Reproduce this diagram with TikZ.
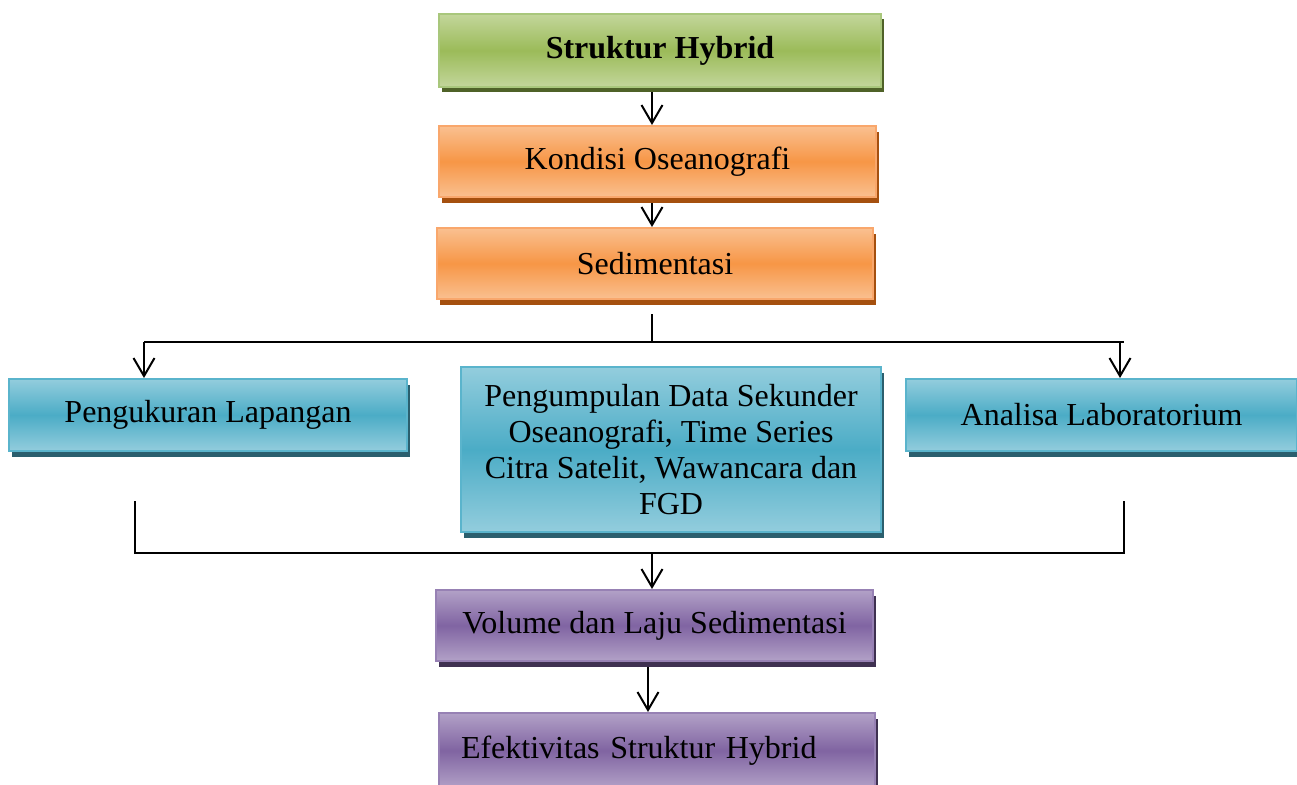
\documentclass[tikz,border=0pt]{standalone}
\usepackage{fontspec}
\setmainfont{Liberation Serif}
\usetikzlibrary{arrows.meta,shadows,backgrounds,calc}
\definecolor{greenB}{HTML}{A9C77C}
\definecolor{greenL}{HTML}{C3D69B}
\definecolor{greenM}{HTML}{9BBB59}
\definecolor{greenS}{HTML}{4F6228}
\definecolor{orangeB}{HTML}{F9A76C}
\definecolor{orangeL}{HTML}{FAC090}
\definecolor{orangeM}{HTML}{F79646}
\definecolor{orangeS}{HTML}{A5500F}
\definecolor{blueB}{HTML}{5AB4CC}
\definecolor{blueL}{HTML}{93CDDD}
\definecolor{blueM}{HTML}{4BACC6}
\definecolor{blueS}{HTML}{2B5F6E}
\definecolor{purpleB}{HTML}{9781B4}
\definecolor{purpleL}{HTML}{B2A1C7}
\definecolor{purpleM}{HTML}{8064A2}
\definecolor{purpleS}{HTML}{3F3151}
\tikzset{
  box/.style={draw, rectangle, line width=2pt, inner sep=0pt, align=center},
  gbox/.style={box, draw=greenB, top color=greenL, bottom color=greenL, middle color=greenM,
    general shadow={fill=greenS, shadow xshift=3pt, shadow yshift=-5pt}},
  obox/.style={box, draw=orangeB, top color=orangeL, bottom color=orangeL, middle color=orangeM,
    general shadow={fill=orangeS, shadow xshift=3pt, shadow yshift=-6pt}},
  bbox/.style={box, draw=blueB, top color=blueL, bottom color=blueL, middle color=blueM,
    general shadow={fill=blueS, shadow xshift=3pt, shadow yshift=-6pt}},
  pbox/.style={box, draw=purpleB, top color=purpleL, bottom color=purpleL, middle color=purpleM,
    general shadow={fill=purpleS, shadow xshift=3pt, shadow yshift=-6pt}},
  conn/.style={line width=2pt, black},
  arr/.style={conn, -{Straight Barb[length=18pt, width=21pt, line width=2pt]}},
}
\begin{document}
\begin{tikzpicture}[x=1pt, y=-1pt, font=\fontsize{32}{36}\selectfont]
\clip (0,0) rectangle (1297,784);

\node[gbox, minimum width=442pt, minimum height=73pt] (A) at (660,50.5) {\bfseries Struktur Hybrid};
\node[obox, minimum width=437pt, minimum height=71pt] (B) at (657.5,161.5) {Kondisi Oseanografi};
\node[obox, minimum width=436pt, minimum height=71pt] (C) at (655,263.5) {Sedimentasi};
\node[bbox, minimum width=398pt, minimum height=72pt] (D) at (208,415) {Pengukuran Lapangan};
\node[bbox, minimum width=420pt, minimum height=165pt] (E) at (671,449.5)
  {Pengumpulan Data Sekunder\\Oseanografi, Time Series\\Citra Satelit, Wawancara dan\\FGD};
\node[bbox, minimum width=391pt, minimum height=72pt] (F) at (1101.5,415) {Analisa Laboratorium};
\node[pbox, minimum width=437pt, minimum height=71pt] (G) at (654.5,625.5) {Volume dan Laju Sedimentasi};
\node[pbox, minimum width=436pt, minimum height=75pt, text width=392pt, align=left, inner xsep=22pt] (H) at (657,750.5) {Efektivitas Struktur Hybrid};

\coordinate (ax) at (652,0);
\coordinate (gx) at (648,0);
\coordinate (sM) at (652,342);
\coordinate (sL) at (144,342);
\coordinate (sR) at (1124,342);
\coordinate (aR) at (1120,342);
\coordinate (bL) at (135,501);
\coordinate (bR) at (1124,501);
\coordinate (bLL) at (135,553);
\coordinate (bRR) at (1124,553);
\coordinate (bM) at (652,553);

\begin{pgfonlayer}{background}
\draw[arr] (A.south -| ax) -- (B.north -| ax);
\draw[arr] (B.south -| ax) -- (C.north -| ax);
\draw[conn, shorten <=14pt] (C.south -| ax) -- (sM);
\draw[conn] (sL) -- (sR);
\draw[arr] (sL) -- (D.north -| sL);
\draw[arr] (aR) -- (F.north -| aR);
\draw[conn] (bL) -- (bLL) -- (bRR) -- (bR);
\draw[arr] (bM) -- (G.north -| bM);
\draw[arr] (G.south -| gx) -- (H.north -| gx);
\end{pgfonlayer}
\end{tikzpicture}
\end{document}
